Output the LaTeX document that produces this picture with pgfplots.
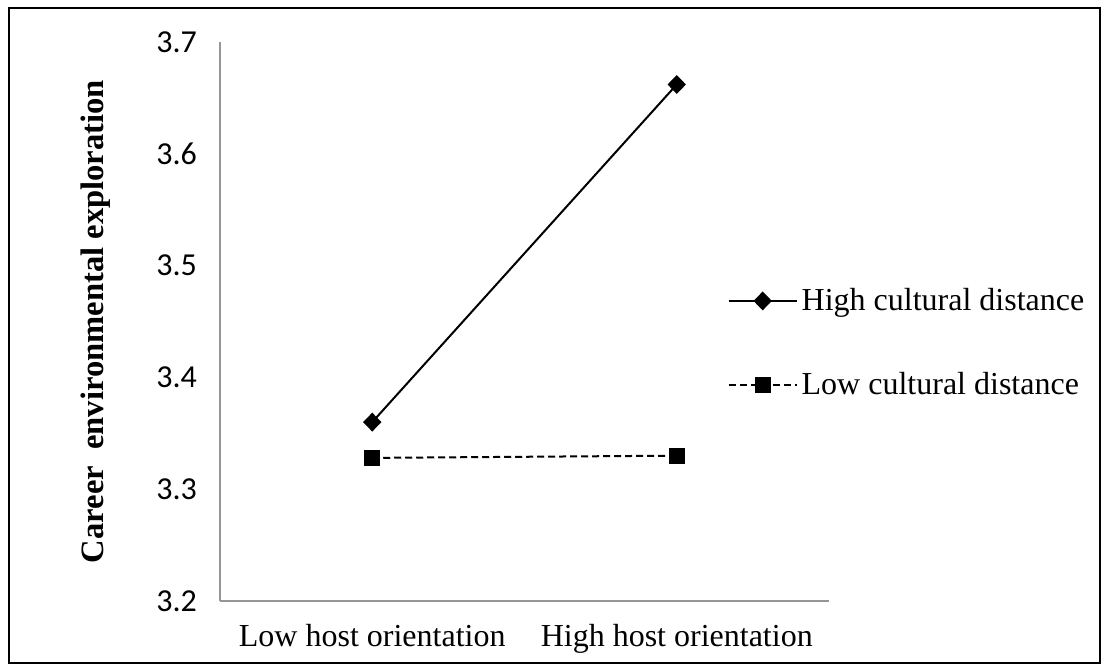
\documentclass[border=0pt]{standalone}
\usepackage{pgfplots}
\pgfplotsset{compat=1.18}
\usepackage{fontspec}
\setmainfont{Liberation Serif}
\newfontfamily\calibri{Carlito}
\definecolor{axgray}{RGB}{150,150,150}
\begin{document}
\begin{tikzpicture}
\path[use as bounding box] (0,0) rectangle (552.5pt,333pt);
\begin{axis}[
  at={(110pt,32.5pt)}, anchor=south west,
  scale only axis,
  width=304.5pt, height=279.5pt,
  xmin=0, xmax=2, ymin=3.2, ymax=3.7,
  axis x line=bottom, axis y line=left,
  axis line style={-, draw=axgray, line width=0.8pt},
  major tick length=0pt,
  xtick={0.5,1.5},
  xticklabels={Low host orientation, High host orientation},
  ytick={3.2,3.3,3.4,3.5,3.6,3.7},
  yticklabels={3.2,3.3,3.4,3.5,3.6,3.7},
  xticklabel style={font=\fontsize{16}{19}\selectfont, yshift=-8pt},
  yticklabel style={font=\calibri\fontsize{16}{19}\selectfont, xshift=-8pt},
  ylabel={\textbf{Career\ \ environmental exploration}},
  ylabel style={at={(axis description cs:0,0.5)}, anchor=center, yshift=62pt, font=\fontsize{16.3}{19}\selectfont},
  legend style={at={(axis description cs:0.833,0.4615)}, anchor=west, draw=none, fill=none,
    font=\fontsize{16}{19}\selectfont, row sep=25.5pt, inner sep=0pt,
    /tikz/every even column/.append style={column sep=0pt}},
  legend cell align=left,
  legend image code/.code={\draw[mark repeat=2,mark phase=2] plot coordinates {(0pt,0pt)(17pt,0pt)(34pt,0pt)};},
  clip=false,
]
\addplot[black, line width=1pt, mark=diamond*, mark size=4pt, mark options={solid, fill=black, xscale=1.3}]
  coordinates {(0.5,3.360) (1.5,3.662)};
\addlegendentry{High cultural distance}
\addplot[black, line width=1pt, dash pattern=on 3.5pt off 2pt, mark=square*, mark size=3.5pt, mark options={solid, fill=black}]
  coordinates {(0.5,3.328) (1.5,3.330)};
\addlegendentry{Low cultural distance}
\end{axis}
\draw[black, line width=0.8pt] (4.5pt,1.5pt) rectangle (550pt,329pt);
\end{tikzpicture}
\end{document}
